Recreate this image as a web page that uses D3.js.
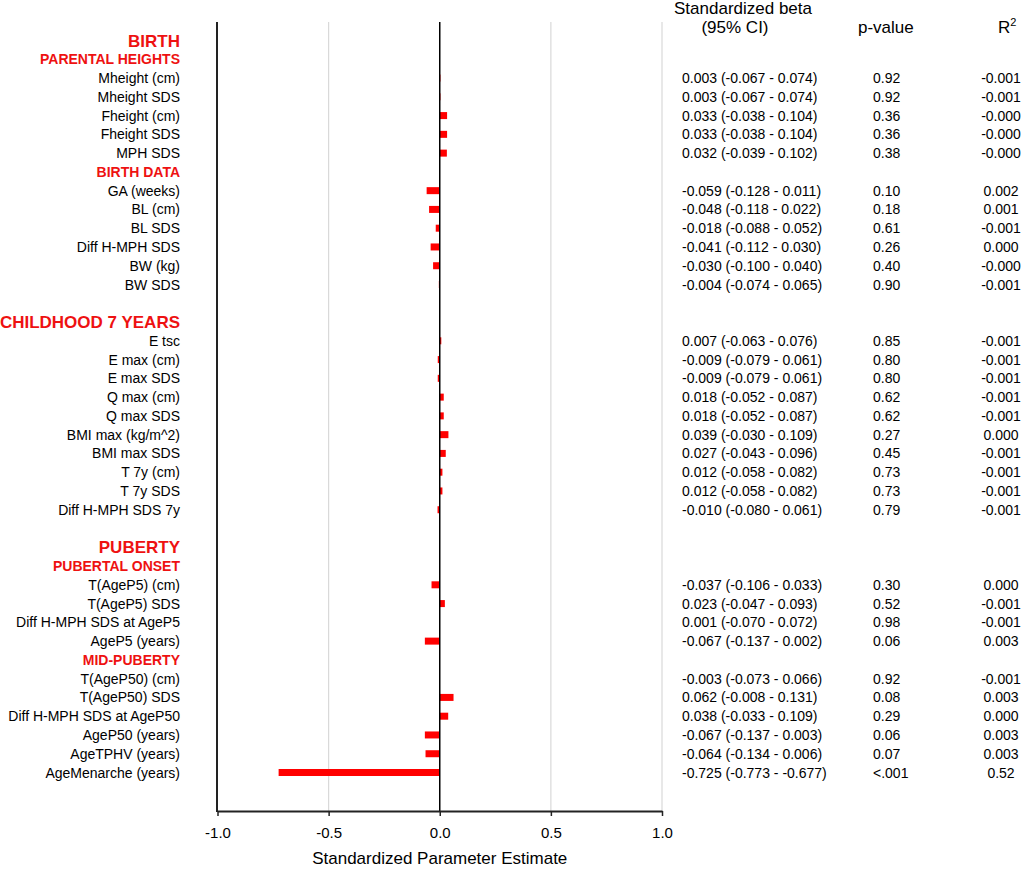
<!DOCTYPE html>
<html>
<head>
<meta charset="utf-8">
<script src="https://cdn.jsdelivr.net/npm/d3@7"></script>
<style>
  body { margin: 0; background: #fff; }
  svg { display: block; font-family: "Liberation Sans", Arial, sans-serif; }
  .lbl { font-size: 14px; fill: #000; }
  .sec1 { font-size: 17px; font-weight: bold; fill: #ee1111; }
  .sec2 { font-size: 14px; font-weight: bold; fill: #ee1111; }
  .col { font-size: 14px; fill: #000; }
  .hdr { font-size: 17px; fill: #000; }
</style>
</head>
<body>
<svg id="plot" width="1026" height="869"></svg>
<script>
// row labels top to bottom; kind: s1 = big section, s2 = sub section, i = item, b = blank
const ROWS = ['BIRTH', 'PARENTAL HEIGHTS', 'Mheight (cm)', 'Mheight SDS', 'Fheight (cm)', 'Fheight SDS', 'MPH SDS',
  'BIRTH DATA', 'GA (weeks)', 'BL (cm)', 'BL SDS', 'Diff H-MPH SDS', 'BW (kg)', 'BW SDS', '',
  'CHILDHOOD 7 YEARS', 'E tsc', 'E max (cm)', 'E max SDS', 'Q max (cm)', 'Q max SDS', 'BMI max (kg/m^2)',
  'BMI max SDS', 'T 7y (cm)', 'T 7y SDS', 'Diff H-MPH SDS 7y', '',
  'PUBERTY', 'PUBERTAL ONSET', 'T(AgeP5) (cm)', 'T(AgeP5) SDS', 'Diff H-MPH SDS at AgeP5', 'AgeP5 (years)',
  'MID-PUBERTY', 'T(AgeP50) (cm)', 'T(AgeP50) SDS', 'Diff H-MPH SDS at AgeP50', 'AgeP50 (years)',
  'AgeTPHV (years)', 'AgeMenarche (years)'];
const KINDS = ['s1', 's2', 'i', 'i', 'i', 'i', 'i',
  's2', 'i', 'i', 'i', 'i', 'i', 'i', 'b',
  's1', 'i', 'i', 'i', 'i', 'i', 'i', 'i', 'i', 'i', 'i', 'b',
  's1', 's2', 'i', 'i', 'i', 'i',
  's2', 'i', 'i', 'i', 'i', 'i', 'i'];

// values for the item rows only, same order
const BETA = [0.003, 0.003, 0.033, 0.033, 0.032,
  -0.059, -0.048, -0.018, -0.041, -0.030, -0.004,
  0.007, -0.009, -0.009, 0.018, 0.018, 0.039, 0.027, 0.012, 0.012, -0.010,
  -0.037, 0.023, 0.001, -0.067,
  -0.003, 0.062, 0.038, -0.067, -0.064, -0.725];
const CI_LOW = [-0.067, -0.067, -0.038, -0.038, -0.039,
  -0.128, -0.118, -0.088, -0.112, -0.100, -0.074,
  -0.063, -0.079, -0.079, -0.052, -0.052, -0.030, -0.043, -0.058, -0.058, -0.080,
  -0.106, -0.047, -0.070, -0.137,
  -0.073, -0.008, -0.033, -0.137, -0.134, -0.773];
const CI_HIGH = [0.074, 0.074, 0.104, 0.104, 0.102,
  0.011, 0.022, 0.052, 0.030, 0.040, 0.065,
  0.076, 0.061, 0.061, 0.087, 0.087, 0.109, 0.096, 0.082, 0.082, 0.061,
  0.033, 0.093, 0.072, 0.002,
  0.066, 0.131, 0.109, 0.003, 0.006, -0.677];
const P_VALUES = ['0.92', '0.92', '0.36', '0.36', '0.38',
  '0.10', '0.18', '0.61', '0.26', '0.40', '0.90',
  '0.85', '0.80', '0.80', '0.62', '0.62', '0.27', '0.45', '0.73', '0.73', '0.79',
  '0.30', '0.52', '0.98', '0.06',
  '0.92', '0.08', '0.29', '0.06', '0.07', '<.001'];
const R2 = ['-0.001', '-0.001', '-0.000', '-0.000', '-0.000',
  '0.002', '0.001', '-0.001', '0.000', '-0.000', '-0.001',
  '-0.001', '-0.001', '-0.001', '-0.001', '-0.001', '0.000', '-0.001', '-0.001', '-0.001', '-0.001',
  '0.000', '-0.001', '-0.001', '0.003',
  '-0.001', '0.003', '0.000', '0.003', '0.003', '0.52'];

const X_TICKS = [-1, -0.5, 0, 0.5, 1];
const GRID = [-0.5, 0.5, 1];

const svg = d3.select('#plot');
const plotTop = 22, plotBottom = 811;

const x = d3.scaleLinear().domain([-1, 1]).range([217.5, 662]);
const y = d3.scalePoint().domain(d3.range(ROWS.length)).range([40.5, 772.5]);

// item rows joined with their values
let k = 0;
const items = [];
ROWS.forEach((r, i) => {
  if (KINDS[i] === 'i') {
    items.push({ row: i, name: r, beta: BETA[k], lo: CI_LOW[k], hi: CI_HIGH[k], p: P_VALUES[k], r2: R2[k] });
    k++;
  }
});

// gridlines
svg.append('g')
  .selectAll('line')
  .data(GRID)
  .enter().append('line')
  .attr('x1', d => x(d)).attr('x2', d => x(d))
  .attr('y1', plotTop).attr('y2', plotBottom)
  .attr('stroke', '#d9d9d9').attr('stroke-width', 1.2);

// bars
svg.append('g')
  .selectAll('rect')
  .data(items)
  .enter().append('rect')
  .attr('x', d => x(Math.min(0, d.beta)))
  .attr('width', d => Math.abs(x(d.beta) - x(0)))
  .attr('y', d => y(d.row) - 3.5)
  .attr('height', 7)
  .attr('fill', '#ff0000');

// zero reference line
svg.append('line')
  .attr('x1', x(0)).attr('x2', x(0))
  .attr('y1', plotTop).attr('y2', plotBottom)
  .attr('stroke', '#000').attr('stroke-width', 1.5);

// left axis line
svg.append('line')
  .attr('x1', 217).attr('x2', 217)
  .attr('y1', plotTop).attr('y2', plotBottom + 1)
  .attr('stroke', '#222').attr('stroke-width', 2);

// x axis
const xAxis = svg.append('g')
  .attr('transform', `translate(0,${plotBottom})`)
  .call(d3.axisBottom(x)
    .tickValues(X_TICKS)
    .tickSize(5)
    .tickSizeOuter(0)
    .tickPadding(11)
    .tickFormat(d => d.toFixed(1)));
xAxis.select('.domain').attr('stroke', '#222').attr('stroke-width', 2);
xAxis.selectAll('.tick line').attr('stroke', '#222').attr('stroke-width', 1.5);
xAxis.selectAll('.tick text')
  .attr('font-family', '"Liberation Sans", Arial, sans-serif')
  .attr('font-size', 15).attr('fill', '#000');

svg.append('text')
  .attr('x', x(0)).attr('y', 864)
  .attr('text-anchor', 'middle')
  .attr('class', 'hdr')
  .text('Standardized Parameter Estimate');

// row labels
svg.append('g')
  .selectAll('text')
  .data(ROWS.map((r, i) => ({ r, i, kind: KINDS[i] })).filter(d => d.kind !== 'b'))
  .enter().append('text')
  .attr('x', 180)
  .attr('y', d => y(d.i) + (d.kind === 's1' ? 6 : 5))
  .attr('text-anchor', 'end')
  .attr('class', d => d.kind === 's1' ? 'sec1' : d.kind === 's2' ? 'sec2' : 'lbl')
  .text(d => d.r);

// table headers
svg.append('text').attr('class', 'hdr').attr('x', 743).attr('y', 14)
  .attr('text-anchor', 'middle').text('Standardized beta');
svg.append('text').attr('class', 'hdr').attr('x', 735).attr('y', 33)
  .attr('text-anchor', 'middle').text('(95% CI)');
svg.append('text').attr('class', 'hdr').attr('x', 858).attr('y', 33).text('p-value');
const r2h = svg.append('text').attr('class', 'hdr').attr('x', 998).attr('y', 33);
r2h.append('tspan').text('R');
r2h.append('tspan').attr('font-size', 11).attr('dy', -7).text('2');

// table columns
const f3 = v => v.toFixed(3);
const table = svg.append('g');
table.selectAll('text.beta')
  .data(items)
  .enter().append('text')
  .attr('class', 'col beta')
  .attr('x', 682)
  .attr('y', d => y(d.row) + 5)
  .text(d => `${f3(d.beta)} (${f3(d.lo)} - ${f3(d.hi)})`);
table.selectAll('text.pv')
  .data(items)
  .enter().append('text')
  .attr('class', 'col pv')
  .attr('x', 873)
  .attr('y', d => y(d.row) + 5)
  .text(d => d.p);
table.selectAll('text.r2')
  .data(items)
  .enter().append('text')
  .attr('class', 'col r2')
  .attr('x', 1001)
  .attr('y', d => y(d.row) + 5)
  .attr('text-anchor', 'middle')
  .text(d => d.r2);
</script>
</body>
</html>
